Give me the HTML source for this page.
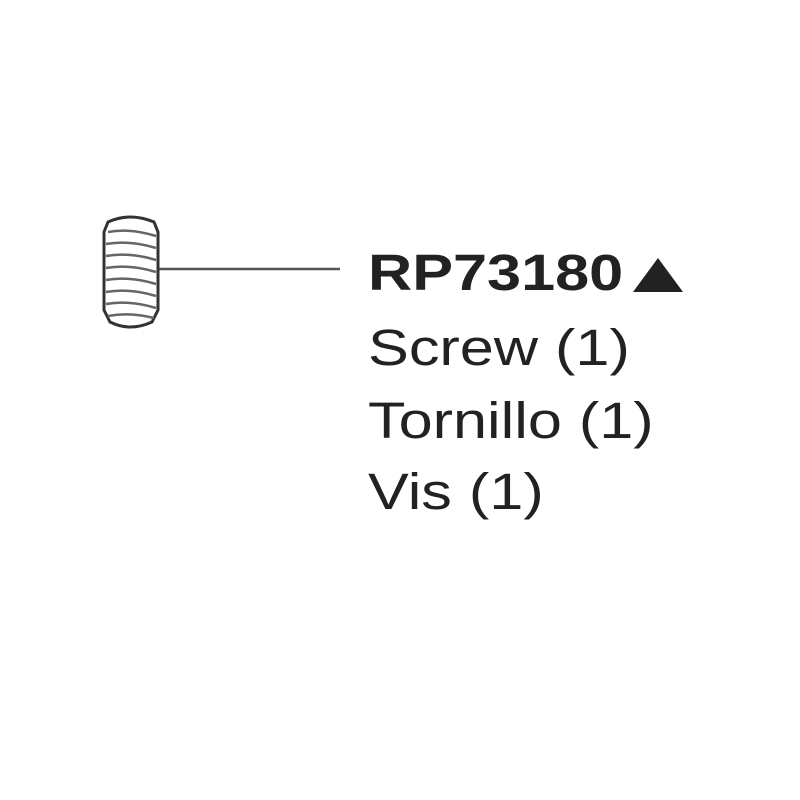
<!DOCTYPE html>
<html><head><style>
body{margin:0;width:800px;height:800px;background:#fff;overflow:hidden;position:relative;font-family:"Liberation Sans",sans-serif;color:#222}
.t{position:absolute;left:368px;font-size:51px;line-height:1;transform:scaleX(1.2);transform-origin:0 0;white-space:nowrap}
</style></head><body>
<svg width="800" height="800" style="position:absolute;left:0;top:0">
<line x1="158" y1="269" x2="340" y2="269" stroke="#555" stroke-width="2.5"/>
<path d="M108 222 Q130 212 154 222 L158 232 L158 310 L152 322 Q130 332 110 322 L104 310 L104 232 Z" fill="#fff" stroke="#333" stroke-width="3"/>
<g stroke="#666" stroke-width="2.5" fill="none">
<path d="M108 232 Q130 228 156 236"/><path d="M106 244 Q130 240 156 248"/><path d="M106 256 Q130 252 156 260"/>
<path d="M106 268 Q130 264 156 272"/><path d="M106 280 Q130 276 156 284"/><path d="M106 292 Q130 288 156 296"/>
<path d="M106 304 Q130 300 156 308"/><path d="M108 316 Q130 312 154 318"/>
</g>
<polygon points="633,292 683,292 658,258" fill="#222"/>
</svg>
<div class="t" style="top:247px;font-weight:bold">RP73180</div>
<div class="t" style="top:322px">Screw (1)</div>
<div class="t" style="top:395px">Tornillo (1)</div>
<div class="t" style="top:466px">Vis (1)</div>
</body></html>
